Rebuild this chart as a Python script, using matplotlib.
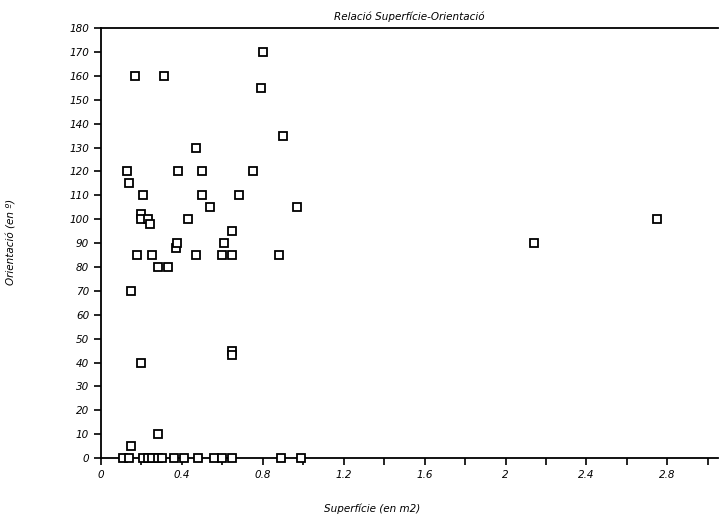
import matplotlib
matplotlib.use('Agg')
import matplotlib.pyplot as plt
from matplotlib.ticker import MultipleLocator, FormatStrFormatter

# superficie (m2) i orientacio (graus), llegits del grafic
superficie = [0.80, 0.17, 0.31, 0.79, 0.90, 0.47,
              0.13, 0.38, 0.50, 0.75, 0.14,
              0.21, 0.50, 0.68, 0.54, 0.97,
              0.20, 0.20, 0.23, 0.24, 0.43,
              0.65, 0.61, 0.37, 0.375,
              0.18, 0.25, 0.47, 0.60, 0.65, 0.88,
              0.28, 0.33, 0.15, 0.65, 0.65, 0.20, 0.28, 0.15,
              0.11, 0.14, 0.21, 0.23, 0.25, 0.28, 0.30, 0.36, 0.41,
              0.48, 0.56, 0.60, 0.65, 0.89, 0.99,
              2.14, 2.75]
orientacio = [170, 160, 160, 155, 135, 130,
              120, 120, 120, 120, 115,
              110, 110, 110, 105, 105,
              102, 100, 100, 98, 100,
              95, 90, 88, 90,
              85, 85, 85, 85, 85, 85,
              80, 80, 70, 45, 43, 40, 10, 5,
              0, 0, 0, 0, 0, 0, 0, 0, 0,
              0, 0, 0, 0, 0, 0,
              90, 100]

fig = plt.figure(figsize=(7.19, 5.2), dpi=100)
ax = plt.axes([0.1405, 0.119, 0.858, 0.827])
ax.plot(superficie, orientacio, linestyle='none', marker='s', markersize=5.5,
        markerfacecolor='white', markeredgecolor='black', markeredgewidth=1.3,
        clip_on=False, zorder=3)

ax.set_xlim(0, 3.05)
ax.set_ylim(0, 180)
ax.xaxis.set_major_locator(MultipleLocator(0.4))
ax.xaxis.set_minor_locator(MultipleLocator(0.2))
ax.xaxis.set_major_formatter(FormatStrFormatter('%g'))
ax.yaxis.set_major_locator(MultipleLocator(10))
ax.tick_params(axis='both', direction='out', length=5, width=1.2,
               labelsize=7.5, colors='black')
ax.tick_params(axis='x', which='minor', direction='out', length=5, width=1.2)
for lab in ax.get_xticklabels() + ax.get_yticklabels():
    lab.set_fontstyle('italic')

ax.spines['right'].set_visible(False)
for s in ['left', 'bottom', 'top']:
    ax.spines[s].set_linewidth(1.3)

plt.title('Relació Superfície-Orientació', fontsize=7.5, fontstyle='italic', pad=6)
fig.text(0.517, 0.022, 'Superfície (en m2)', fontsize=7.5,
         fontstyle='italic', ha='center', va='center')
fig.text(0.016, 0.535, 'Orientació (en º)', fontsize=7.5, fontstyle='italic',
         rotation=90, ha='center', va='center')

plt.savefig('out.png', dpi=100)
